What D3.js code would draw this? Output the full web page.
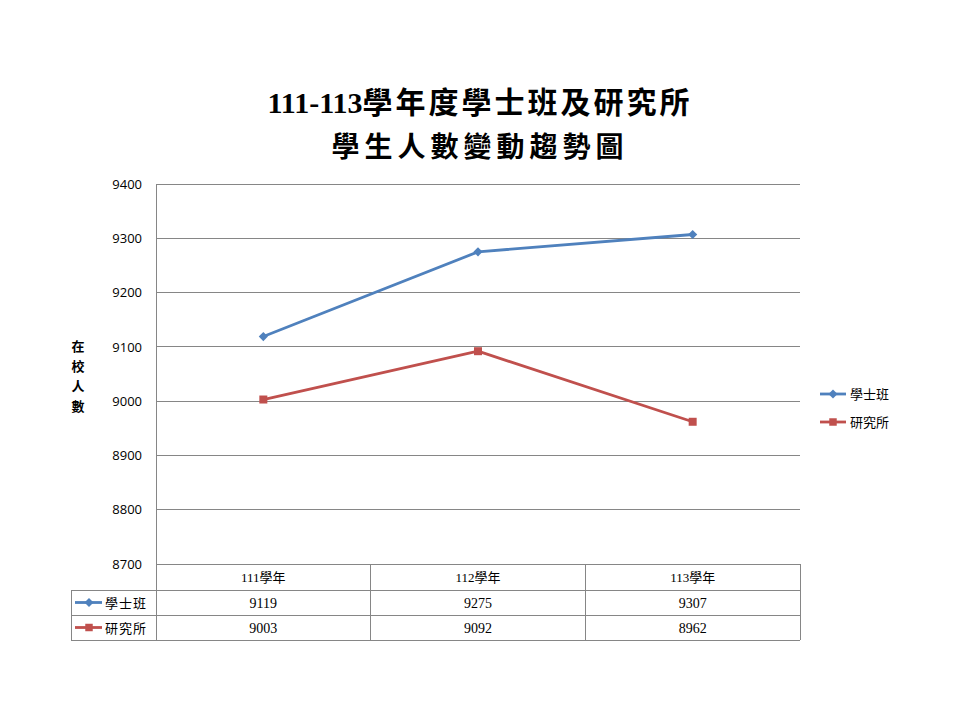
<!DOCTYPE html>
<html><head><meta charset="utf-8">
<script src="https://cdn.jsdelivr.net/npm/d3@7"></script>
<style>body{margin:0;background:#fff}</style>
</head><body>
<svg id="c" width="960" height="720"></svg>
<script>
const categories = ["111學年", "112學年", "113學年"];
const seriesNames = ["學士班", "研究所"];
const bachelor = [9119, 9275, 9307];
const graduate = [9003, 9092, 8962];
const yTicks = [8700, 8800, 8900, 9000, 9100, 9200, 9300, 9400];
const titleLines = ["111-113學年度學士班及研究所", "學生人數變動趨勢圖"];
const yLabel = "在校人數";

const colors = ["#4F81BD", "#C0504D"];
const seriesData = [bachelor, graduate];
const svg = d3.select("#c");
svg.append("rect").attr("width",960).attr("height",720).attr("fill","#fff");

const L = 156, R = 800, T = 184, B = 564;
const x = d3.scaleBand().domain(categories).range([L, R]);
const y = d3.scaleLinear().domain([8700, 9400]).range([B, T]);

const serif = "'Liberation Serif','Times New Roman','Noto Sans CJK TC',serif";
const sans = "'Open Sans','DejaVu Sans','Noto Sans CJK TC',sans-serif";

// marker generator: diamond = rotated square
function marker(k, size) {
  return d3.symbol(d3.symbolSquare, size)();
}
function markerTransform(k, cx, cy) {
  return `translate(${cx},${cy})` + (k === 0 ? " rotate(45)" : "");
}

// title
const t1 = svg.append("text").attr("x", 480).attr("y", 113).attr("text-anchor","middle")
  .attr("font-family", serif).attr("font-weight","bold").attr("font-size", 30).attr("fill","#000");
t1.append("tspan").text("111-113");
t1.append("tspan").attr("letter-spacing", 3).text(titleLines[0].slice(7));
svg.append("text").attr("x", 480).attr("y", 157).attr("text-anchor","middle")
  .attr("font-family", serif).attr("font-weight","bold").attr("font-size", 28).attr("fill","#000")
  .attr("letter-spacing", 5)
  .text(titleLines[1]);

// gridlines
svg.append("g").selectAll("line").data(yTicks).join("line")
  .attr("x1", L).attr("x2", R).attr("y1", d => y(d)).attr("y2", d => y(d))
  .attr("stroke", "#868686").attr("stroke-width", 1).attr("shape-rendering","crispEdges");

// y axis
const yAxis = d3.axisLeft(y).tickValues(yTicks).tickSize(0).tickPadding(14).tickFormat(d3.format("d"));
const ga = svg.append("g").attr("transform", `translate(${L},0)`).call(yAxis);
ga.select(".domain").remove();
ga.selectAll("text").attr("font-family", sans).attr("font-size", 13).attr("fill","#000");
svg.append("line").attr("x1", L).attr("x2", L).attr("y1", T).attr("y2", 640)
  .attr("stroke","#868686").attr("shape-rendering","crispEdges");

// y label stacked
const yl = svg.append("text").attr("font-family", serif).attr("font-weight","bold").attr("font-size", 13).attr("text-anchor","middle");
Array.from(yLabel).forEach((ch, i) => {
  yl.append("tspan").attr("x", 78).attr("y", 351 + i*20).text(ch);
});

// lines and markers
const line = d3.line().x((d,i) => x(categories[i]) + x.bandwidth()/2).y(d => y(d));
seriesData.forEach((s, k) => {
  svg.append("path").datum(s).attr("d", line).attr("fill","none")
    .attr("stroke", colors[k]).attr("stroke-width", 2.8).attr("stroke-linejoin","round");
  svg.append("g").selectAll("path").data(s).join("path")
    .attr("d", marker(k, k === 0 ? 42 : 64))
    .attr("transform", (d,i) => markerTransform(k, x(categories[i]) + x.bandwidth()/2, y(d)))
    .attr("fill", colors[k]);
});

// legend
seriesNames.forEach((n, k) => {
  const ly = 394 + k*28;
  svg.append("line").attr("x1", 820).attr("x2", 846).attr("y1", ly).attr("y2", ly)
    .attr("stroke", colors[k]).attr("stroke-width", 2.8);
  svg.append("path").attr("d", marker(k, k===0?40:56))
    .attr("transform", markerTransform(k, 833, ly)).attr("fill", colors[k]);
  svg.append("text").attr("x", 850).attr("y", ly + 5).attr("font-family", serif)
    .attr("font-size", 13).attr("fill","#000").text(n);
});

// data table
const rowH = [564, 590, 615, 640];
const tg = svg.append("g").attr("stroke","#868686").attr("shape-rendering","crispEdges");
tg.append("line").attr("x1", L).attr("x2", R).attr("y1", rowH[0]).attr("y2", rowH[0]);
[1,2,3].forEach(r => tg.append("line").attr("x1", 71).attr("x2", R).attr("y1", rowH[r]).attr("y2", rowH[r]));
tg.append("line").attr("x1", 71).attr("x2", 71).attr("y1", rowH[1]).attr("y2", rowH[3]);
categories.forEach(c => {
  const xe = x(c) + x.bandwidth();
  tg.append("line").attr("x1", xe).attr("x2", xe).attr("y1", rowH[0]).attr("y2", rowH[3]);
});
svg.append("g").selectAll("text").data(categories).join("text")
  .attr("x", d => x(d) + x.bandwidth()/2).attr("y", 582).attr("text-anchor","middle")
  .attr("font-family", serif).attr("font-size", 13).attr("fill","#000").text(d => d);
seriesData.forEach((s, k) => {
  const cy = (rowH[k+1] + rowH[k+2]) / 2;
  svg.append("g").selectAll("text").data(s).join("text")
    .attr("x", (d,i) => x(categories[i]) + x.bandwidth()/2).attr("y", cy + 5).attr("text-anchor","middle")
    .attr("font-family", serif).attr("font-size", 14).attr("fill","#000").text(d => d);
  svg.append("line").attr("x1", 75).attr("x2", 102).attr("y1", cy).attr("y2", cy)
    .attr("stroke", colors[k]).attr("stroke-width", 2.8);
  svg.append("path").attr("d", marker(k, k===0?40:56))
    .attr("transform", markerTransform(k, 89, cy)).attr("fill", colors[k]);
  svg.append("text").attr("x", 105).attr("y", cy + 5).attr("font-family", serif)
    .attr("font-size", 13).attr("fill","#000").attr("letter-spacing", 1).text(seriesNames[k]);
});
</script>
</body></html>
